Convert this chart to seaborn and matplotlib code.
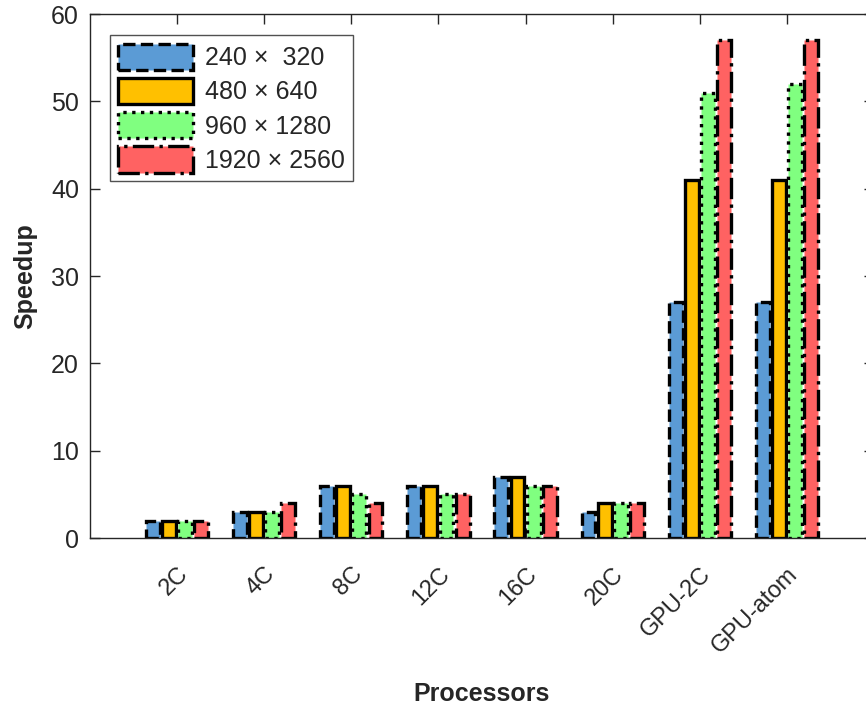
import numpy as np
import pandas as pd
import matplotlib
matplotlib.use("Agg")
import matplotlib.pyplot as plt
import matplotlib.transforms as mtransforms
import seaborn as sns
from matplotlib.patches import Patch

processors = ["2C", "4C", "8C", "12C", "16C", "20C", "GPU-2C", "GPU-atom"]
sizes = ["240 \u00d7  320", "480 \u00d7 640", "960 \u00d7 1280", "1920 \u00d7 2560"]
s240 = [2, 3, 6, 6, 7, 3, 27, 27]
s480 = [2, 3, 6, 6, 7, 4, 41, 41]
s960 = [2, 3, 5, 5, 6, 4, 51, 52]
s1920 = [2, 4, 4, 5, 6, 4, 57, 57]
yticks = [0, 10, 20, 30, 40, 50, 60]

colors = ["#5B9BD5", "#FFC000", "#80FF80", "#FF6262"]
styles = ["--", "-", ":", "-."]

rows = []
for name, vals in zip(sizes, [s240, s480, s960, s1920]):
    for p, v in zip(processors, vals):
        rows.append({"Processors": p, "Speedup": v, "Size": name})
df = pd.DataFrame(rows)

sns.set_theme(style="white")
plt.rcParams["font.family"] = ["Liberation Sans", "DejaVu Sans"]

fig = plt.figure(figsize=(8.66, 7.05), dpi=100)
ax = fig.add_axes([90 / 866, 1 - 538 / 705, (874 - 90) / 866, (538 - 14) / 705])

sns.barplot(data=df, x="Processors", y="Speedup", hue="Size", order=processors,
            hue_order=sizes, palette=colors, width=0.74, gap=0.14,
            saturation=1, ax=ax, legend=False)

for cont, ls in zip(ax.containers, styles):
    for bar in cont:
        bar.set_edgecolor("black")
        bar.set_linewidth(2.4)
        bar.set_linestyle(ls)

ax.set_xlim(-1, 8)
ax.set_ylim(0, 60)
ax.set_yticks(yticks)
ax.set_yticklabels([str(t) for t in yticks], fontsize=18, color="#262626")
ax.set_xticks(range(len(processors)))
ax.set_xticklabels(processors, rotation=45, ha="right", rotation_mode="anchor",
                   fontsize=17, color="#262626")
offset = mtransforms.ScaledTranslation(14 / 100, 0, fig.dpi_scale_trans)
for lab in ax.get_xticklabels():
    lab.set_transform(lab.get_transform() + offset)
ax.tick_params(axis="both", direction="in", length=7, width=1, color="#262626",
               top=True, right=True, bottom=True, left=True)
ax.tick_params(axis="y", pad=8)
ax.tick_params(axis="x", pad=18)
for sp in ax.spines.values():
    sp.set_color("#262626")
    sp.set_linewidth(1.0)

ax.set_xlabel("Processors", fontsize=18, fontweight="bold", labelpad=18)
ax.set_ylabel("Speedup", fontsize=18, fontweight="bold", labelpad=10)

handles = [Patch(facecolor=c, edgecolor="black", linestyle=ls, linewidth=2.4, label=s)
           for c, ls, s in zip(colors, styles, sizes)]
leg = ax.legend(handles=handles, loc="upper left", bbox_to_anchor=(0.025, 0.96),
                borderaxespad=0, fontsize=18, handlelength=3.0, handleheight=1.25,
                labelspacing=0.3, handletextpad=0.45, borderpad=0.35,
                frameon=True, fancybox=False, edgecolor="#262626")
leg.get_frame().set_linewidth(1.0)

fig.savefig("out.png", dpi=100)
